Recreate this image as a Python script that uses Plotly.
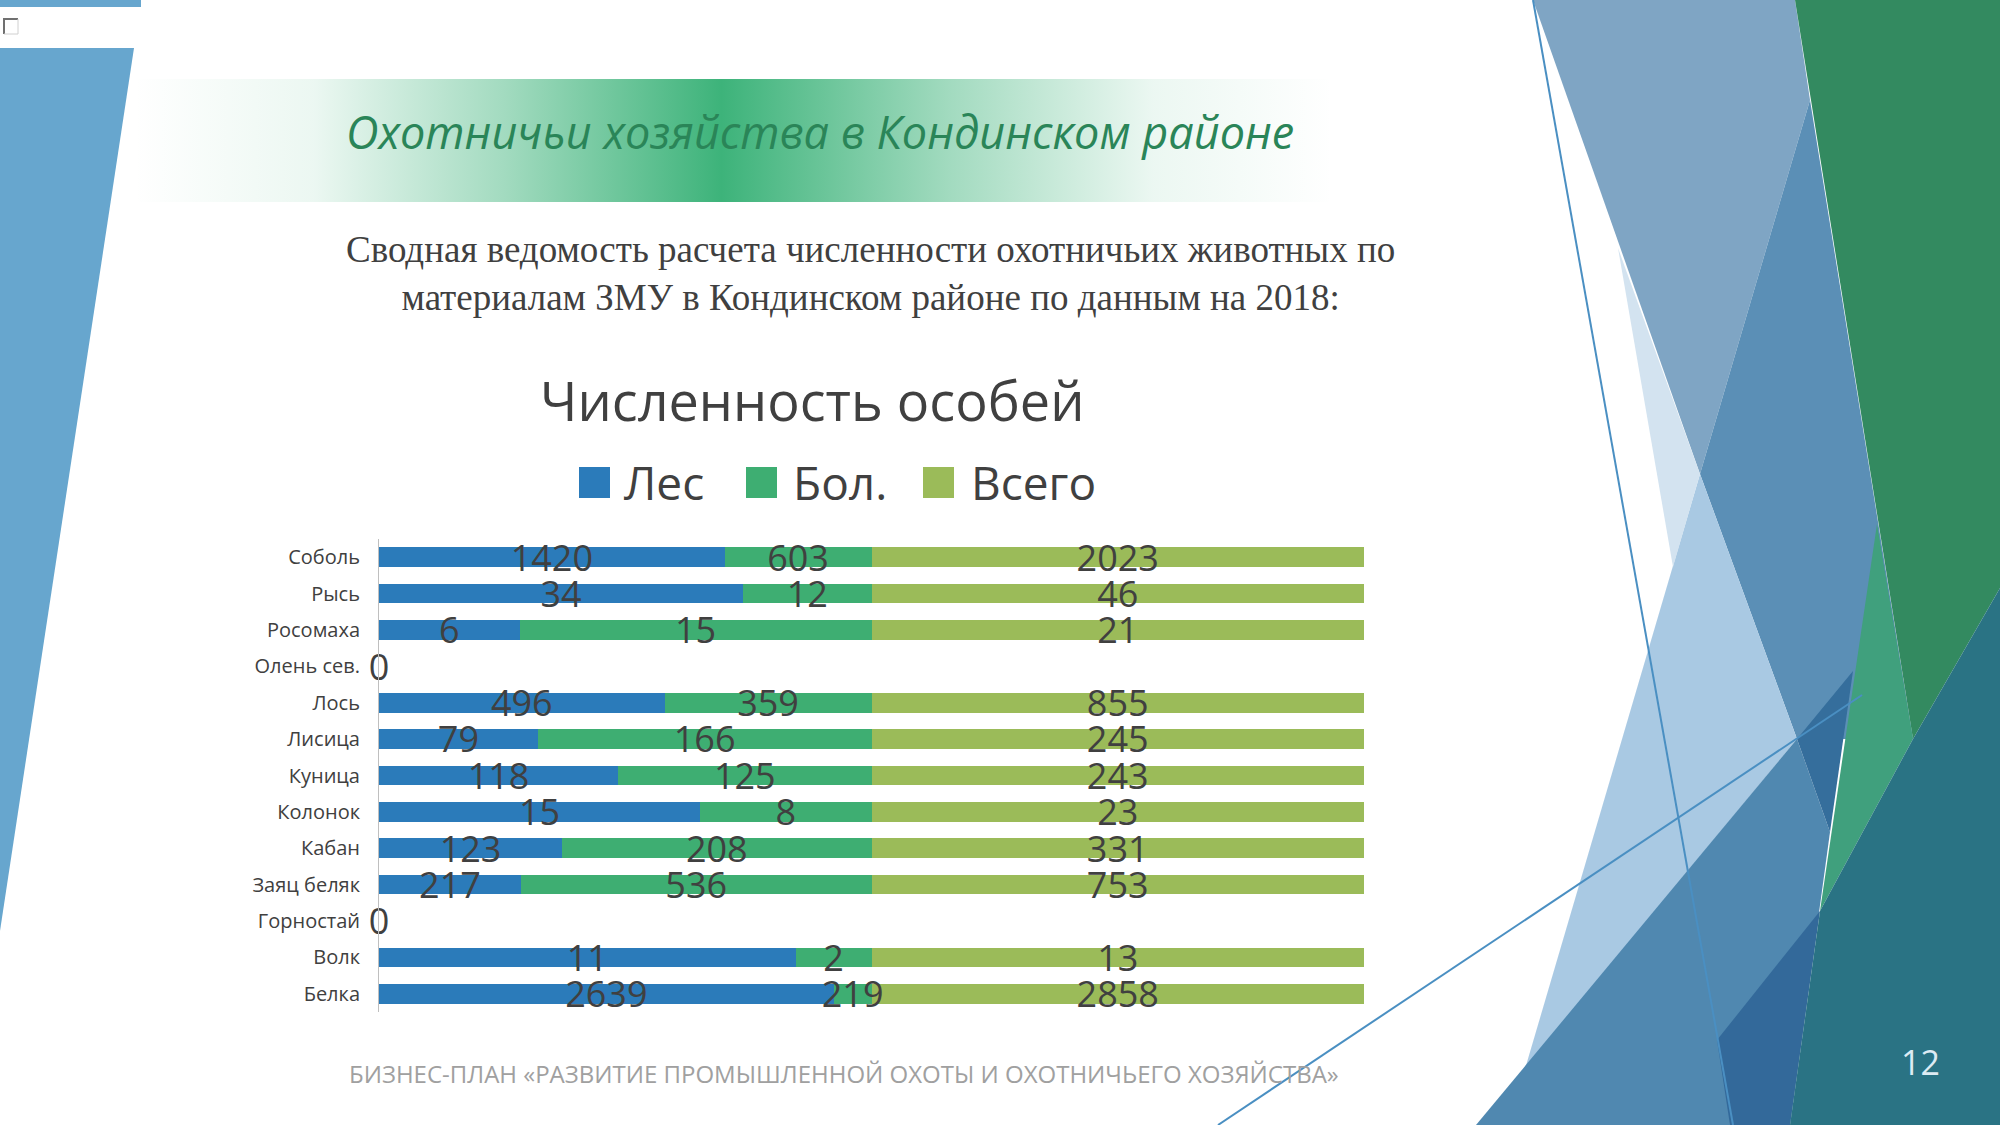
import plotly.graph_objects as go
import base64

# ---------------- data ----------------
categories = ["Соболь", "Рысь", "Росомаха", "Олень сев.", "Лось", "Лисица", "Куница",
              "Колонок", "Кабан", "Заяц беляк", "Горностай", "Волк", "Белка"]
les = [1420, 34, 6, 0, 496, 79, 118, 15, 123, 217, 0, 11, 2639]
bol = [603, 12, 15, 0, 359, 166, 125, 8, 208, 536, 0, 2, 219]
vsego = [2023, 46, 21, 0, 855, 245, 243, 23, 331, 753, 0, 13, 2858]
series_names = ["Лес", "Бол.", "Всего"]

chart_title = "Численность особей"
slide_title = "Охотничьи хозяйства в Кондинском районе"
subtitle = ("Сводная ведомость расчета численности охотничьих животных по<br>"
            "материалам ЗМУ в Кондинском районе по данным на 2018:")
footer = "БИЗНЕС-ПЛАН «РАЗВИТИЕ ПРОМЫШЛЕННОЙ ОХОТЫ И ОХОТНИЧЬЕГО ХОЗЯЙСТВА»"
page_no = "12"

# ---------------- styles ----------------
W, H = 2000, 1125
colors = ["#2B7BBA", "#3EAE72", "#9BBB59"]
TXT = "#404040"
LABEL_FONT = "Liberation Sans Narrow, Open Sans, sans-serif"
SANS = "Open Sans, Noto Sans, sans-serif"
LABEL_NUDGE = 0.12   # labels sit slightly below the bar centre, as in the original


def px(x):
    return x / W


def py(y):
    return 1 - y / H


def poly(points):
    return "M " + " L ".join(f"{px(x):.5f},{py(y):.5f}" for x, y in points) + " Z"


series = [les, bol, vsego]
n = len(categories)
totals = [sum(s[i] for s in series) for i in range(n)]

fig = go.Figure()
for name, vals, col in zip(series_names, series, colors):
    fig.add_trace(go.Bar(
        y=categories, x=vals, name=name, orientation="h",
        marker=dict(color=col, line=dict(width=0)),
        hoverinfo="skip", showlegend=False,
    ))

# data labels (centred on each percent segment), drawn on top of all bars
lab_x, lab_y, lab_t = [], [], []
for i in range(n):
    if totals[i] == 0:
        lab_x.append(0)
        lab_y.append(i + LABEL_NUDGE)
        lab_t.append("0")
        continue
    cum = 0
    for s in series:
        v = s[i]
        lab_x.append((cum + v / 2) / totals[i] * 100)
        lab_y.append(i + LABEL_NUDGE)
        lab_t.append(str(v))
        cum += v
fig.add_trace(go.Scatter(
    x=lab_x, y=lab_y, yaxis="y2", mode="text", text=lab_t,
    textposition="middle center",
    textfont=dict(family=LABEL_FONT, size=36, color=TXT),
    cliponaxis=False, hoverinfo="skip", showlegend=False,
))

y_dom = [py(1012), py(539)]
fig.update_layout(
    width=W, height=H,
    margin=dict(l=0, r=0, t=0, b=0),
    paper_bgcolor="white", plot_bgcolor="rgba(0,0,0,0)",
    barmode="stack", barnorm="percent", bargap=0.46,
    showlegend=False,
    xaxis=dict(domain=[px(379), px(1364)], range=[0, 100], visible=False,
               fixedrange=True),
    yaxis=dict(domain=y_dom, type="category",
               categoryorder="array", categoryarray=categories,
               range=[n - 0.5, -0.5],
               showline=True, linecolor="#BFBFBF", linewidth=1,
               ticks="", showgrid=False, zeroline=False,
               ticklabelstandoff=14,
               tickfont=dict(family=SANS, size=20, color=TXT)),
    yaxis2=dict(overlaying="y", range=[n - 0.5, -0.5], visible=False,
                showgrid=False, zeroline=False),
)

# ---------------- slide decoration ----------------
shapes = []
shapes.append(dict(type="path", path=poly([(0, 48), (134, 48), (0, 931)]),
                   fillcolor="#67A6CE", line=dict(width=0), layer="below",
                   xref="paper", yref="paper"))
shapes.append(dict(type="rect", x0=px(0), x1=px(141), y0=py(0), y1=py(7),
                   fillcolor="#67A6CE", line=dict(width=0), layer="below",
                   xref="paper", yref="paper"))
shapes.append(dict(type="path", path=f"M {px(4)},{py(34)} L {px(4)},{py(19)} L {px(18)},{py(19)}",
                   line=dict(color="#707070", width=2), layer="below",
                   xref="paper", yref="paper"))
shapes.append(dict(type="path", path=f"M {px(18)},{py(19)} L {px(18)},{py(34)} L {px(4)},{py(34)}",
                   line=dict(color="#D0D0D0", width=1), layer="below",
                   xref="paper", yref="paper"))

right_polys = [
    ([(1533, 0), (1795, 0), (1810, 100), (1700, 474)], "#7FA5C4"),
    ([(1810, 100), (1913, 739), (1797, 739), (1700, 474)], "#5B8FB6"),
    ([(1700, 474), (1797, 739), (1525, 1069)], "#A9C9E3"),
    ([(1618, 248), (1700, 474), (1673, 567)], "#D3E3F0"),
    ([(1476, 1125), (1797, 739), (1830, 832), (1790, 1125)], "#5088B0"),
    ([(1797, 739), (1853, 671), (1830, 832)], "#356E9C"),
    ([(1717, 1040), (1820, 911), (1790, 1125), (1730, 1125)], "#33699A"),
    ([(1795, 0), (2000, 0), (2000, 588), (1913, 739)], "#338A60"),
    ([(1877, 524), (1913, 739), (1820, 911)], "#40A07D"),
    ([(2000, 588), (2000, 1125), (1790, 1125), (1820, 911), (1913, 739)], "#2A7384"),
]
for pts, col in right_polys:
    shapes.append(dict(type="path", path=poly(pts), fillcolor=col,
                       line=dict(width=0), layer="below",
                       xref="paper", yref="paper"))
for (x0, y0), (x1, y1) in [((1533, 0), (1733, 1125)), ((1218, 1125), (1862, 695))]:
    shapes.append(dict(type="line", x0=px(x0), y0=py(y0), x1=px(x1), y1=py(y1),
                       line=dict(color="#4A8FC2", width=2), layer="below",
                       xref="paper", yref="paper"))

# custom legend squares
legend_sq_x = [579, 746, 923]
legend_txt_x = [622, 791, 969]
for sx, col in zip(legend_sq_x, colors):
    shapes.append(dict(type="rect", x0=px(sx), x1=px(sx + 31), y0=py(498), y1=py(467),
                       fillcolor=col, line=dict(width=0),
                       xref="paper", yref="paper"))
fig.update_layout(shapes=shapes)

# gradient banner as an SVG image
svg = ("<svg xmlns='http://www.w3.org/2000/svg' width='1200' height='123' "
       "viewBox='0 0 1200 123' preserveAspectRatio='none'>"
       "<defs><linearGradient id='g' x1='0' x2='1' y1='0' y2='0'>"
       "<stop offset='0' stop-color='#3DB37A' stop-opacity='0'/>"
       "<stop offset='0.15' stop-color='#3DB37A' stop-opacity='0.1'/>"
       "<stop offset='0.31' stop-color='#3DB37A' stop-opacity='0.48'/>"
       "<stop offset='0.49' stop-color='#3DB37A' stop-opacity='1'/>"
       "<stop offset='0.68' stop-color='#3DB37A' stop-opacity='0.48'/>"
       "<stop offset='0.85' stop-color='#3DB37A' stop-opacity='0.1'/>"
       "<stop offset='1' stop-color='#3DB37A' stop-opacity='0'/>"
       "</linearGradient></defs>"
       "<rect x='0' y='0' width='1200' height='123' fill='url(#g)'/></svg>")
src = "data:image/svg+xml;base64," + base64.b64encode(svg.encode()).decode()
fig.add_layout_image(dict(source=src, xref="paper", yref="paper",
                          x=px(134), y=py(79), sizex=px(1333) - px(134),
                          sizey=py(79) - py(202), xanchor="left", yanchor="top",
                          sizing="stretch", layer="below"))

ann = []
ann.append(dict(text=slide_title, x=px(820), y=py(131), xref="paper", yref="paper",
                showarrow=False, xanchor="center", yanchor="middle",
                font=dict(family=SANS, size=45, color="#2A8558", style="italic")))
ann.append(dict(text=subtitle, x=px(870), y=py(274), xref="paper", yref="paper",
                showarrow=False, xanchor="center", yanchor="middle", align="center",
                font=dict(family="Liberation Serif, Times New Roman, serif", size=37,
                          color=TXT)))
ann.append(dict(text=chart_title, x=px(812), y=py(400), xref="paper", yref="paper",
                showarrow=False, xanchor="center", yanchor="middle",
                font=dict(family=SANS, size=54, color=TXT)))
for tx, name in zip(legend_txt_x, series_names):
    ann.append(dict(text=name, x=px(tx), y=py(482), xref="paper", yref="paper",
                    showarrow=False, xanchor="left", yanchor="middle",
                    font=dict(family=SANS, size=46, color=TXT)))
ann.append(dict(text=footer, x=px(844), y=py(1073), xref="paper", yref="paper",
                showarrow=False, xanchor="center", yanchor="middle",
                font=dict(family=SANS, size=24, color="#A0A0A0")))
ann.append(dict(text=page_no, x=px(1920), y=py(1062), xref="paper", yref="paper",
                showarrow=False, xanchor="center", yanchor="middle",
                font=dict(family=SANS, size=34, color="#DDEBF3")))
fig.update_layout(annotations=ann)

fig.write_html("out.html", config={"displayModeBar": False},
               post_script="document.body.style.margin='0';document.body.style.overflow='hidden';")
